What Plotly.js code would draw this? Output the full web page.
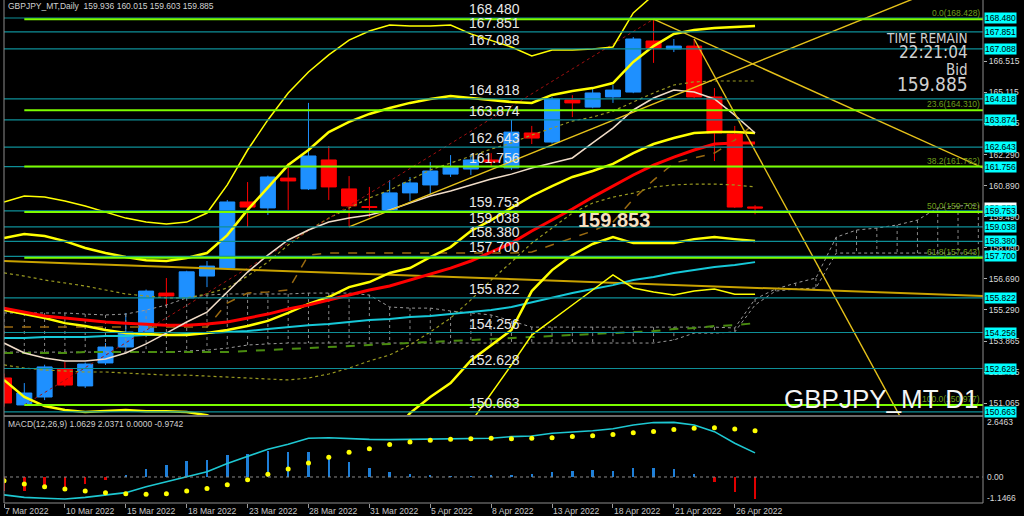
<!DOCTYPE html>
<html><head><meta charset="utf-8">
<script src="https://cdn.plot.ly/plotly-3.0.1.min.js"></script>
<style>html,body{margin:0;padding:0;background:#000;}#chart{width:1024px;height:516px;}</style>
</head><body><div id="chart"></div>
<script>
// ---------- data ----------
const dateIdx = [0,3,6,9,12,15,18,21,24,27,30,33,36];
const dateLabels = ['7 Mar 2022','10 Mar 2022','15 Mar 2022','18 Mar 2022','23 Mar 2022','28 Mar 2022','31 Mar 2022','5 Apr 2022','8 Apr 2022','13 Apr 2022','18 Apr 2022','21 Apr 2022','26 Apr 2022'];

const open  = [152.20,150.98,151.34,152.61,151.84,152.88,153.60,154.19,156.04,155.82,156.81,157.17,160.16,159.89,161.24,160.75,162.06,160.75,159.95,159.80,160.57,160.93,161.42,161.65,162.06,161.70,163.28,162.87,164.77,164.45,164.91,165.13,167.44,167.08,167.21,164.91,163.23,159.936];
const high  = [152.40,151.97,152.80,152.92,152.90,153.78,155.14,156.20,156.72,157.05,157.49,160.25,161.06,161.35,161.92,164.64,162.69,161.33,160.84,161.15,161.29,161.97,162.28,162.24,162.37,163.87,163.60,164.90,164.99,165.31,165.45,167.62,168.428,167.53,167.53,165.31,163.60,160.015];
const low   = [150.90,150.977,151.20,151.80,151.75,152.79,153.46,154.10,155.41,155.75,156.31,157.10,159.03,159.57,159.80,160.70,160.25,159.03,159.48,159.71,160.20,160.52,161.29,161.38,161.74,161.61,162.78,162.80,164.00,164.40,164.64,165.08,166.45,166.94,164.85,162.01,159.89,159.603];
const close = [151.07,151.52,152.70,151.88,152.83,153.60,154.28,156.13,155.91,157.00,157.26,160.16,159.93,161.29,161.11,162.24,160.84,159.98,159.91,160.57,161.02,161.56,161.74,162.06,161.97,163.32,163.05,164.82,164.64,165.09,165.22,167.53,167.12,167.21,164.91,163.28,159.93,159.885];

const maRed   = [155.36,155.18,155.00,154.91,154.82,154.73,154.68,154.64,154.59,154.59,154.64,154.73,154.91,155.09,155.32,155.50,155.73,155.95,156.18,156.36,156.63,156.90,157.17,157.49,157.90,158.30,158.85,159.34,159.84,160.38,160.88,161.38,161.83,162.19,162.51,162.78,162.83,162.83];
const maCyan  = [154.01,154.01,154.05,154.05,154.05,154.10,154.10,154.14,154.14,154.19,154.23,154.28,154.32,154.41,154.50,154.59,154.64,154.73,154.82,154.87,154.96,155.00,155.09,155.18,155.27,155.41,155.63,155.82,156.04,156.22,156.40,156.63,156.77,156.95,157.08,157.22,157.31,157.44];
const maWheat = [153.78,153.33,153.10,152.97,152.97,153.06,153.33,153.74,154.23,154.73,155.18,156.09,156.99,157.76,158.44,158.89,159.25,159.43,159.57,159.80,160.11,160.43,160.66,160.93,161.20,161.42,161.70,161.92,162.15,162.83,163.50,164.32,164.86,165.22,165.13,164.82,164.09,163.28];

const bbMid      = [155.27,155.09,154.91,154.68,154.55,154.37,154.23,154.19,154.14,154.14,154.23,154.37,154.55,154.78,155.14,155.55,155.86,156.31,156.54,156.95,157.17,157.67,158.12,158.85,159.34,159.89,160.43,160.88,161.29,161.56,161.88,162.37,162.78,163.05,163.28,163.32,163.32,163.28];
const bbUpInner  = [158.53,158.71,158.62,158.39,158.08,157.85,157.67,157.53,157.49,157.63,157.85,158.66,159.80,160.84,161.83,162.51,163.32,163.78,164.14,164.41,164.64,164.82,164.95,164.86,164.77,164.68,164.64,165.00,165.18,165.31,165.54,166.49,167.21,167.76,167.94,168.03,168.07,168.12];
const bbLowInner = [152.11,151.34,150.93,150.75,150.66,150.70,150.75,150.70,150.70,150.66,150.52,150.08,149.30,148.72,148.45,148.59,148.40,148.84,148.94,149.49,150.61,151.34,151.97,152.99,153.69,154.37,156.13,157.08,157.76,158.26,158.57,158.30,158.30,158.30,158.48,158.57,158.48,158.39];
const bbUpOuter  = [160.16,160.43,160.38,160.20,159.98,159.71,159.43,159.25,159.16,159.25,159.66,160.93,162.51,163.87,165.09,166.04,166.81,167.48,167.89,168.16,168.12,168.12,168.16,167.76,167.48,167.17,166.76,167.03,167.03,167.08,167.17,168.71,169.52,170.15,170.43,170.42,170.65,170.57];
const bbLowOuter = [150.38,149.75,149.44,149.16,149.12,149.03,149.03,149.13,149.12,149.03,148.80,147.81,146.59,145.69,145.19,145.06,144.91,145.14,145.19,145.74,146.22,147.22,148.08,150.20,151.47,152.79,154.14,154.80,155.50,156.18,156.86,156.27,156.09,155.95,156.13,156.22,155.99,155.99];

const kijun     = [154.50,154.50,154.50,154.50,154.50,154.50,154.50,154.50,154.50,154.50,154.50,155.59,156.04,156.09,156.18,157.76,157.85,157.85,157.85,157.85,157.85,157.85,157.85,157.85,157.85,157.85,157.90,158.21,158.53,158.85,159.25,160.29,161.15,161.92,162.15,162.37,162.96,163.73];
const greenDash = [153.33,153.33,153.33,153.33,153.37,153.37,153.37,153.37,153.37,153.37,153.37,153.37,153.42,153.46,153.51,153.55,153.60,153.64,153.69,153.74,153.78,153.83,153.87,153.92,153.96,154.01,154.05,154.10,154.14,154.19,154.23,154.28,154.32,154.41,154.46,154.55,154.59,154.68];
const dotUpper  = [156.95,156.81,156.63,156.49,156.36,156.18,156.00,155.91,155.82,155.82,156.00,156.27,156.81,157.44,158.21,158.89,159.43,159.89,160.34,160.70,161.15,161.61,161.92,162.24,162.55,162.83,163.19,163.50,163.82,164.00,164.27,164.68,165.09,165.45,165.59,165.63,165.63,165.63];
const dotLower  = [152.79,152.65,152.56,152.51,152.47,152.47,152.42,152.38,152.33,152.33,152.29,152.24,152.20,152.15,152.11,152.20,152.38,152.65,152.97,153.24,153.69,154.28,154.91,155.73,156.63,157.44,158.30,158.98,159.66,160.11,160.38,160.56,160.84,160.93,160.97,160.97,160.93,160.84];

const cloudA = [155.14,155.14,155.14,155.14,155.09,155.05,155.09,155.27,155.50,155.82,155.95,156.00,156.00,156.00,156.00,156.04,156.04,156.04,155.95,155.41,155.36,155.36,155.23,155.14,155.05,154.78,154.50,154.50,154.50,154.50,154.50,154.50,154.50,154.50,154.50,154.50,154.46,155.77,156.22,156.49,156.72,158.57,158.89,158.98,159.12,159.34,159.89,159.98,160.02];
const cloudB = [153.37,153.37,153.37,153.37,153.37,153.37,153.37,153.37,153.37,153.42,153.46,153.55,153.69,153.74,153.78,153.78,153.78,153.78,153.78,153.78,153.78,153.78,153.78,153.78,153.78,153.78,153.78,153.78,153.78,153.78,153.78,153.78,153.78,153.92,154.23,154.23,154.28,155.50,156.13,156.22,156.27,157.85,157.85,157.85,157.85,157.85,157.85,157.85,157.85];

// straight lines: [startIndex, startPrice, endIndex, endPrice]
const goldLine  = [0, 157.49, 48.23, 155.91];
const trendUp   = [17, 159.03, 48.23, 170.62];
const trendDown = [32, 168.428, 48.23, 161.70];
const trendSteep= [34, 167.53, 44.5, 149.86];
const fibBase   = [1, 150.977, 32, 168.428];

const hLevels = [168.480,167.851,167.088,164.818,163.874,162.643,161.756,159.753,159.038,158.380,157.700,155.822,154.256,152.628,150.663];
const fibLevels = [168.428,164.310,161.762,159.702,157.643,150.977];
const fibNames  = ['0.0','23.6','38.2','50.0','61.8','100.0'];
const priceTicks = [166.515,165.115,163.715,162.290,160.890,159.490,158.090,156.690,155.290,153.865,152.465,151.065];
const bidPrice = 159.885;

const macdLine = [-0.79,-0.90,-0.94,-0.97,-0.90,-0.81,-0.69,-0.43,-0.22,0.01,0.23,0.60,0.90,1.22,1.44,1.71,1.73,1.69,1.66,1.65,1.66,1.66,1.68,1.69,1.71,1.78,1.81,1.93,1.98,2.04,2.13,2.29,2.40,2.41,2.29,2.00,1.49,1.0629];
const macdSignal = [-0.16,-0.31,-0.43,-0.53,-0.62,-0.69,-0.74,-0.76,-0.74,-0.62,-0.51,-0.34,-0.12,0.12,0.35,0.62,0.87,1.09,1.25,1.43,1.54,1.62,1.66,1.69,1.71,1.69,1.71,1.73,1.79,1.82,1.87,1.95,2.01,2.10,2.15,2.17,2.12,2.0371];
const macdHist = [-0.60,-0.60,-0.51,-0.44,-0.29,-0.15,0.10,0.34,0.51,0.69,0.76,0.98,1.03,1.13,1.09,1.09,0.92,0.65,0.41,0.24,0.15,0.10,0.06,0.04,0.09,0.10,0.13,0.22,0.25,0.29,0.28,0.38,0.38,0.35,0.13,-0.21,-0.65,-0.9742];
const macdTicks = [2.6463, 0.00, -1.1466];
const macdTickText = ['2.6463','0.00','-1.1466'];

// ---------- build ----------
const X = open.map((_, i) => i);
const CX = cloudA.map((_, i) => i);
const XMAX = 48.23;
const FONT = 'Liberation Sans, Arial, sans-serif';
const NARROW = 'Liberation Sans Narrow, DejaVu Sans Condensed, Liberation Sans, Arial, sans-serif';

function line(x, y, color, width, dash, yaxis) {
  return {type:'scatter', mode:'lines', x:x, y:y, xaxis:'x', yaxis:yaxis||'y',
    line:{color:color, width:width, dash:dash||'solid'}, hoverinfo:'skip', connectgaps:false};
}
function seg(s, color, width, dash) {
  return line([s[0], s[2]], [s[1], s[3]], color, width, dash);
}

const hx = [], hy = [];
CX.forEach(i => { hx.push(i, i, null); hy.push(cloudA[i], cloudB[i], null); });

const traces = [
  {type:'candlestick', x:X, open:open, high:high, low:low, close:close, xaxis:'x', yaxis:'y',
   increasing:{line:{color:'#1e90ff', width:1}, fillcolor:'#1e90ff'},
   decreasing:{line:{color:'#ff0000', width:1}, fillcolor:'#ff0000'},
   whiskerwidth:0, hoverinfo:'skip'},
  line(hx, hy, '#8a8a8a', 1, 'dot'),
  line(CX, cloudA, '#9a9a9a', 1, 'dot'),
  line(CX, cloudB, '#9a9a9a', 1, 'dot'),
  line(X, greenDash, '#4a8c10', 2, 'dash'),
  line(X, kijun, '#9a6a10', 1.5, 'dash'),
  line(X, dotUpper, '#9a9a20', 1.2, 'dot'),
  line(X, dotLower, '#9a9a20', 1.2, 'dot'),
  seg(fibBase, '#a01010', 1, 'dot'),
  seg(goldLine, '#c9a200', 2),
  line(X, maCyan, '#16c8d8', 2),
  line(X, bbUpOuter, '#ffff00', 1.5),
  line(X, bbLowOuter, '#ffff00', 1.5),
  line(X, bbUpInner, '#ffff00', 2.5),
  line(X, bbLowInner, '#ffff00', 2.5),
  line(X, bbMid, '#ffff00', 2.5),
  line(X, maRed, '#ff0000', 3),
  line(X, maWheat, '#f0dcc8', 1.5),
  seg(trendUp, '#e6c21a', 1.4),
  seg(trendDown, '#e6c21a', 1.4),
  seg(trendSteep, '#e6c21a', 1.4),
  {type:'bar', x:X, y:macdHist, xaxis:'x', yaxis:'y2', width:0.12,
   marker:{color:macdHist.map(v => v >= 0 ? '#1e7fd8' : '#e00000'), line:{width:0}}, hoverinfo:'skip'},
  line(X, macdLine, '#1ec8d2', 1.6, 'solid', 'y2'),
  {type:'scatter', mode:'markers', x:X, y:macdSignal, xaxis:'x', yaxis:'y2',
   marker:{color:'#ffff00', size:5}, hoverinfo:'skip'}
];

const shapes = [];
hLevels.forEach(v => shapes.push({type:'line', xref:'paper', x0:0, x1:1, yref:'y', y0:v, y1:v,
  line:{color:'#0e8f98', width:1.2}, layer:'above'}));
fibLevels.forEach(v => shapes.push({type:'line', xref:'x', x0:fibBase[0], x1:XMAX, yref:'y', y0:v, y1:v,
  line:{color:'#7cfc00', width:2}, layer:'above'}));
shapes.push({type:'line', xref:'x', x0:0, x1:XMAX, yref:'y2', y0:0, y1:0, line:{color:'#8a8a8a', width:1, dash:'dot'}});
// borders
const B = '#8c8c8c';
shapes.push({type:'line', xref:'paper', yref:'paper', x0:0, x1:0, y0:0, y1:1, line:{color:B, width:1}});
shapes.push({type:'line', xref:'paper', yref:'paper', x0:1, x1:1, y0:0, y1:1, line:{color:B, width:1}});
shapes.push({type:'line', xref:'paper', yref:'paper', x0:0, x1:1, y0:0.173, y1:0.173, line:{color:B, width:1.5}});
shapes.push({type:'line', xref:'paper', yref:'paper', x0:0, x1:1, y0:0, y1:0, line:{color:B, width:1}});

const ann = [];
function txt(o) { ann.push(Object.assign({showarrow:false}, o)); }

// left level labels
hLevels.forEach(v => txt({xref:'paper', x:0.473, xanchor:'left', yref:'y', y:v, yanchor:'bottom', yshift:-1,
  text:v.toFixed(3), font:{family:FONT, size:14, color:'#e8e8e8'}}));
// fib labels
fibLevels.forEach((v, k) => txt({xref:'paper', x:1, xanchor:'right', xshift:-1, yref:'y', y:v, yanchor:'bottom', yshift:-1,
  text:fibNames[k] + '(' + v.toFixed(3) + ')', font:{family:FONT, size:8.5, color:'#6f9e1c'}}));
// bid box
txt({xref:'paper', x:1, xanchor:'left', xshift:1, yref:'y', y:bidPrice, yanchor:'middle',
  text:bidPrice.toFixed(3), bgcolor:'#ffffff', borderpad:0, font:{family:FONT, size:8.5, color:'#000'}});
// right level boxes
hLevels.forEach(v => txt({xref:'paper', x:1, xanchor:'left', xshift:1, yref:'y', y:v, yanchor:'middle',
  text:v.toFixed(3), bgcolor:'#00ffff', borderpad:0, font:{family:FONT, size:8.5, color:'#000'}}));
// MACD axis labels
macdTicks.forEach((v, k) => txt({xref:'paper', x:1, xanchor:'left', xshift:2, yref:'y2', y:v, yanchor:'middle',
  yshift: k === 0 ? -5 : (k === 2 ? 5 : 0), text:macdTickText[k], font:{family:FONT, size:8.5, color:'#d8d8d8'}}));
// dates
dateIdx.forEach((d, k) => txt({xref:'x', x:d, xanchor:'left', xshift:-1, yref:'paper', y:0, yanchor:'top', yshift:-1,
  text:dateLabels[k], font:{family:FONT, size:8.6, color:'#c8c8c8'}}));
// headers
txt({xref:'paper', x:0.002, xanchor:'left', yref:'paper', y:1, yanchor:'middle', yshift:-6,
  text:'GBPJPY_MT,Daily\u00a0\u00a0159.936 160.015 159.603 159.885', font:{family:FONT, size:8.5, color:'#d0d0d0'}});
txt({xref:'paper', x:0.002, xanchor:'left', yref:'paper', y:0.157, yanchor:'middle',
  text:'MACD(12,26,9) 1.0629 2.0371 0.0000 -0.9742', font:{family:FONT, size:8.5, color:'#d0d0d0'}});
txt({xref:'paper', x:0.9867, xanchor:'right', yref:'paper', y:1, yanchor:'middle', yshift:-38,
  text:'TIME REMAIN', font:{family:NARROW, size:13.5, color:'#d0d0d0'}});
txt({xref:'paper', x:0.9867, xanchor:'right', yref:'paper', y:1, yanchor:'middle', yshift:-52,
  text:'22:21:04', font:{family:NARROW, size:17, color:'#d0d0d0'}});
txt({xref:'paper', x:0.9867, xanchor:'right', yref:'paper', y:1, yanchor:'middle', yshift:-70,
  text:'Bid', font:{family:NARROW, size:15, color:'#d0d0d0'}});
txt({xref:'paper', x:0.9867, xanchor:'right', yref:'paper', y:1, yanchor:'middle', yshift:-84,
  text:'159.885', font:{family:NARROW, size:19, color:'#d0d0d0'}});
txt({xref:'paper', x:0.998, xanchor:'right', yref:'paper', y:1, yanchor:'middle', yshift:-399,
  text:'GBPJPY_MT D1', font:{family:FONT, size:26, color:'#f4f4f4'}});
txt({xref:'paper', x:0.623, xanchor:'center', yref:'paper', y:1, yanchor:'middle', yshift:-220,
  text:'<b>159.853</b>', font:{family:FONT, size:20, color:'#f5dfc0'}});

const layout = {
  width:1024, height:516, paper_bgcolor:'#000', plot_bgcolor:'#000',
  margin:{l:4, r:41, t:0, b:13}, showlegend:false, hovermode:false, dragmode:false,
  boxgap:0.26, boxgroupgap:0,
  xaxis:{type:'linear', range:[0, XMAX], anchor:'y2', showgrid:false, zeroline:false, showticklabels:false,
    ticks:'outside', ticklen:4, tickcolor:'#9a9a9a', tickvals:dateIdx, showline:false,
    rangeslider:{visible:false}, fixedrange:true},
  yaxis:{domain:[0.175, 1], range:[150.527, 169.294], side:'right', anchor:'x', showgrid:false, zeroline:false,
    tickvals:priceTicks, tickformat:'.3f', tickfont:{family:FONT, size:8.5, color:'#d8d8d8'},
    ticks:'outside', ticklen:3, tickcolor:'#b0b0b0', showline:false, fixedrange:true},
  yaxis2:{domain:[0, 0.171], range:[-1.1466, 2.6463], side:'right', anchor:'x', showgrid:false, zeroline:false,
    showticklabels:false, ticks:'', showline:false, fixedrange:true},
  bargap:0, shapes:shapes, annotations:ann
};

Plotly.newPlot('chart', traces, layout, {staticPlot:true, displayModeBar:false});
</script></body></html>
